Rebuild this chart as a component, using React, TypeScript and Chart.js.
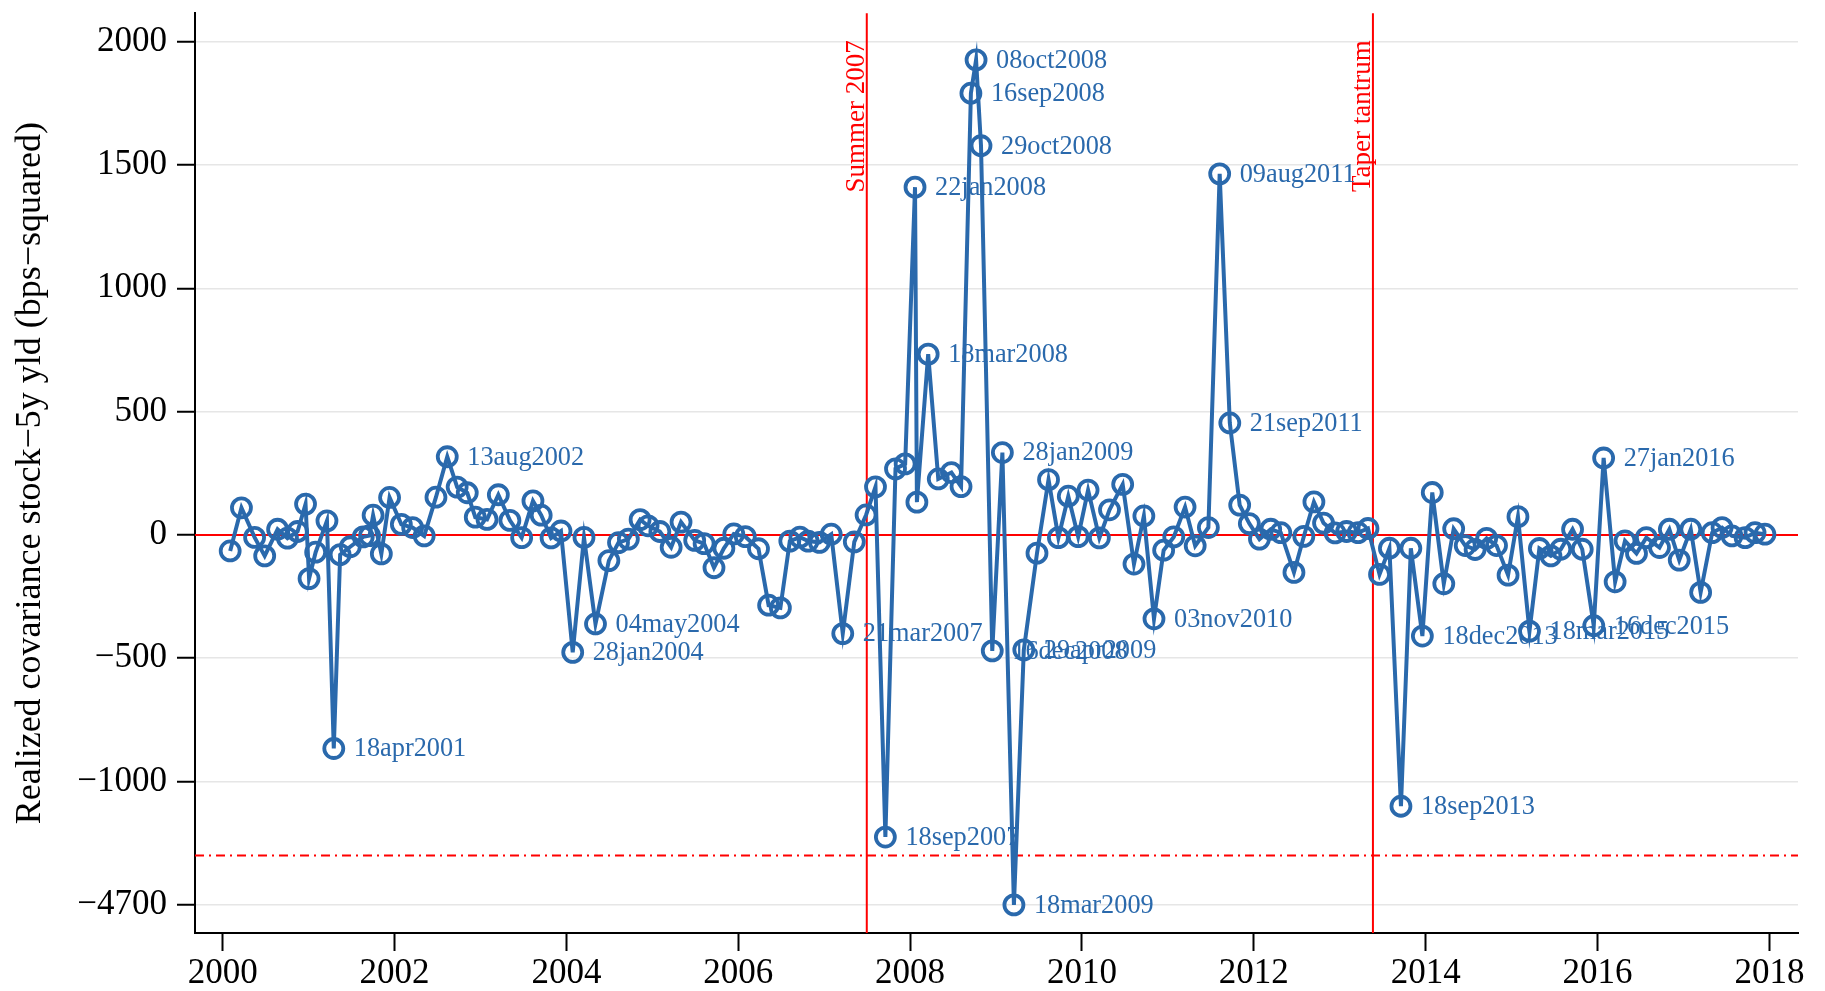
import React, { useEffect, useRef } from 'react';
import { Chart, registerables } from 'chart.js';

Chart.register(...registerables);

// ---------------- data ----------------
const meetingDates: string[] = [
  '02feb2000', '21mar2000', '16may2000', '28jun2000', '22aug2000', '03oct2000', '15nov2000', '19dec2000',
  '03jan2001', '31jan2001', '20mar2001', '18apr2001', '15may2001', '27jun2001', '21aug2001', '17sep2001', '02oct2001', '06nov2001', '11dec2001',
  '30jan2002', '19mar2002', '07may2002', '26jun2002', '13aug2002', '24sep2002', '06nov2002', '10dec2002',
  '29jan2003', '18mar2003', '06may2003', '25jun2003', '12aug2003', '16sep2003', '28oct2003', '09dec2003',
  '28jan2004', '16mar2004', '04may2004', '30jun2004', '10aug2004', '21sep2004', '10nov2004', '14dec2004',
  '02feb2005', '22mar2005', '03may2005', '30jun2005', '09aug2005', '20sep2005', '01nov2005', '13dec2005',
  '31jan2006', '28mar2006', '10may2006', '29jun2006', '08aug2006', '20sep2006', '25oct2006', '12dec2006',
  '31jan2007', '21mar2007', '09may2007', '28jun2007', '07aug2007', '18sep2007', '31oct2007', '11dec2007',
  '22jan2008', '30jan2008', '18mar2008', '30apr2008', '25jun2008', '05aug2008', '16sep2008', '08oct2008', '29oct2008', '16dec2008',
  '28jan2009', '18mar2009', '29apr2009', '24jun2009', '12aug2009', '23sep2009', '04nov2009', '16dec2009',
  '27jan2010', '16mar2010', '28apr2010', '23jun2010', '10aug2010', '21sep2010', '03nov2010', '14dec2010',
  '26jan2011', '15mar2011', '27apr2011', '22jun2011', '09aug2011', '21sep2011', '02nov2011', '13dec2011',
  '25jan2012', '13mar2012', '25apr2012', '20jun2012', '01aug2012', '13sep2012', '24oct2012', '12dec2012',
  '30jan2013', '20mar2013', '01may2013', '19jun2013', '31jul2013', '18sep2013', '30oct2013', '18dec2013',
  '29jan2014', '19mar2014', '30apr2014', '18jun2014', '30jul2014', '17sep2014', '29oct2014', '17dec2014',
  '28jan2015', '18mar2015', '29apr2015', '17jun2015', '29jul2015', '17sep2015', '28oct2015', '16dec2015',
  '27jan2016', '16mar2016', '27apr2016', '15jun2016', '27jul2016', '21sep2016', '02nov2016', '14dec2016',
  '01feb2017', '15mar2017', '03may2017', '14jun2017', '26jul2017', '20sep2017', '01nov2017', '13dec2017',
];

const covariance: number[] = [
  -65, 110, -10, -85, 23, -13, 14, 125,
  -177, -70, 57, -866, -80, -48, -8, -3, 80, -77, 152,
  43, 30, -4, 153, 317, 194, 171, 72,
  63, 163, 59, -11, 138, 80, -12, 16,
  -476, -10, -361, -104, -31, -17, 62, 37,
  14, -50, 52, -22, -35, -133, -54, 4,
  -7, -56, -285, -296, -25, -9, -25, -30,
  3, -400, -28, 81, 195, -1225, 268, 288,
  1410, 133, 733, 227, 253, 196, 1791, 1926, 1578, -470,
  334, -4700, -466, -74, 224, -11, 157, -7,
  182, -12, 102, 205, -118, 77, -340, -62,
  -8, 113, -44, 30, 1464, 454, 121, 46,
  -17, 23, 9, -152, -6, 134, 48, 8,
  14, 9, 26, -160, -54, -1100, -54, -410,
  172, -198, 25, -43, -59, -14, -43, -163,
  74, -390, -55, -85, -58, 23, -58, -368,
  312, -190, -24, -75, -11, -51, 23, -102,
  23, -233, 9, 30, -4, -11, 9, 3,
];

const labeledDates: string[] = [
  '18apr2001', '13aug2002', '28jan2004', '04may2004', '21mar2007', '18sep2007', '22jan2008', '18mar2008',
  '16sep2008', '08oct2008', '29oct2008', '16dec2008', '28jan2009', '18mar2009', '29apr2009', '03nov2010',
  '09aug2011', '21sep2011', '18sep2013', '18dec2013', '18mar2015', '16dec2015', '27jan2016',
];

const yTickValues: number[] = [2000, 1500, 1000, 500, 0, -500, -1000, -4700];
const xTickYears: number[] = [2000, 2002, 2004, 2006, 2008, 2010, 2012, 2014, 2016, 2018];

const eventDates: string[] = ['01jul2007', '22may2013'];
const eventLabels: string[] = ['Summer 2007', 'Taper tantrum'];

const yTitle = 'Realized covariance stock\u22125y yld (bps\u2212squared)';

// axis break: values at or below BREAK_VALUE are drawn at BREAK_POSITION
const BREAK_VALUE = -4700;
const BREAK_POSITION = -1500;
const BREAK_LINE = -1300;

const X_MIN = 1999.678;
const X_MAX = 2018.333;
const Y_MIN = -1614;
const Y_MAX = 2115;

const BLUE = '#2a69ac';
const RED = '#ff0000';
const SERIF = '"Liberation Serif", "Times New Roman", serif';

// ---------------- helpers ----------------
const MONTHS = ['jan', 'feb', 'mar', 'apr', 'may', 'jun', 'jul', 'aug', 'sep', 'oct', 'nov', 'dec'];
function toYear(s: string): number {
  const d = parseInt(s.slice(0, 2), 10);
  const m = MONTHS.indexOf(s.slice(2, 5));
  const y = parseInt(s.slice(5), 10);
  const t = Date.UTC(y, m, d);
  const a = Date.UTC(y, 0, 1);
  const b = Date.UTC(y + 1, 0, 1);
  return y + (t - a) / (b - a);
}
function toAxis(v: number): number {
  return v <= BREAK_VALUE ? BREAK_POSITION + (v - BREAK_VALUE) : v;
}
function fmt(v: number): string {
  return v < 0 ? '\u2212' + String(Math.abs(v)) : String(v);
}

const overlayPlugin = {
  id: 'overlay',
  beforeDatasetsDraw(chart: any) {
    const { ctx, chartArea: a, scales } = chart;
    const x = scales.x;
    const y = scales.y;
    ctx.save();
    ctx.strokeStyle = RED;
    ctx.lineWidth = 2;
    const y0 = y.getPixelForValue(0);
    ctx.beginPath();
    ctx.moveTo(a.left, y0);
    ctx.lineTo(a.right, y0);
    ctx.stroke();
    const yb = y.getPixelForValue(BREAK_LINE);
    ctx.setLineDash([9, 5, 2, 5]);
    ctx.beginPath();
    ctx.moveTo(a.left, yb);
    ctx.lineTo(a.right, yb);
    ctx.stroke();
    ctx.setLineDash([]);
    eventDates.forEach((d, i) => {
      const px = x.getPixelForValue(toYear(d));
      ctx.beginPath();
      ctx.moveTo(px, a.top);
      ctx.lineTo(px, a.bottom);
      ctx.stroke();
      ctx.save();
      ctx.fillStyle = RED;
      ctx.font = `27px ${SERIF}`;
      ctx.translate(px - 3, a.top + 27);
      ctx.rotate(-Math.PI / 2);
      ctx.textAlign = 'right';
      ctx.textBaseline = 'alphabetic';
      ctx.fillText(eventLabels[i], 0, 0);
      ctx.restore();
    });
    ctx.restore();
  },
  afterDatasetsDraw(chart: any) {
    const { ctx } = chart;
    const meta = chart.getDatasetMeta(0);
    ctx.save();
    ctx.fillStyle = BLUE;
    ctx.font = `26.3px ${SERIF}`;
    ctx.textAlign = 'left';
    ctx.textBaseline = 'middle';
    meetingDates.forEach((d, i) => {
      if (labeledDates.indexOf(d) < 0) return;
      const el = meta.data[i];
      ctx.fillText(d, el.x + 20, el.y + 1);
    });
    ctx.restore();
  },
};

export default function App() {
  const ref = useRef<HTMLCanvasElement | null>(null);

  useEffect(() => {
    if (!ref.current) return;
    const points = meetingDates.map((d, i) => ({ x: toYear(d), y: toAxis(covariance[i]) }));
    const chart = new Chart(ref.current, {
      type: 'scatter',
      data: {
        datasets: [
          {
            data: points,
            showLine: true,
            borderColor: BLUE,
            borderWidth: 4,
            pointRadius: 9.5,
            pointHoverRadius: 9.5,
            pointBorderWidth: 3.8,
            pointBorderColor: BLUE,
            pointBackgroundColor: 'rgba(0,0,0,0)',
            tension: 0,
          },
        ],
      },
      options: {
        animation: false,
        responsive: true,
        maintainAspectRatio: false,
        layout: { padding: { top: 10, right: 27, left: 0, bottom: 0 } },
        plugins: { legend: { display: false }, tooltip: { enabled: false } },
        scales: {
          x: {
            type: 'linear',
            min: X_MIN,
            max: X_MAX,
            afterBuildTicks: (s: any) => {
              s.ticks = xTickYears.map((v) => ({ value: v }));
            },
            afterFit: (s: any) => {
              s.height = 58;
              s.paddingLeft = 0;
              s.paddingRight = 0;
            },
            grid: { drawOnChartArea: false, drawTicks: true, tickLength: 18, tickWidth: 2, tickColor: '#000' },
            border: { display: true, color: '#000', width: 2 },
            ticks: {
              font: { family: SERIF, size: 35 },
              color: '#000',
              padding: 2,
              maxRotation: 0,
              autoSkip: false,
              callback: (v: any) => String(v),
            },
          },
          y: {
            type: 'linear',
            min: Y_MIN,
            max: Y_MAX,
            afterBuildTicks: (s: any) => {
              s.ticks = yTickValues.map((v) => ({ value: toAxis(v) }));
            },
            afterFit: (s: any) => {
              s.width = 195;
              s.paddingTop = 0;
              s.paddingBottom = 0;
            },
            grid: { color: '#e6e6e6', lineWidth: 1.5, tickLength: 18, tickWidth: 2, tickColor: '#000' },
            border: { display: true, color: '#000', width: 2 },
            ticks: {
              font: { family: SERIF, size: 35 },
              color: '#000',
              padding: 10,
              autoSkip: false,
              callback: (v: any) => {
                const idx = yTickValues.map(toAxis).indexOf(v);
                return idx >= 0 ? fmt(yTickValues[idx]) : '';
              },
            },
            title: {
              display: true,
              text: yTitle,
              font: { family: SERIF, size: 36 },
              color: '#000',
              padding: { top: 9, bottom: 0 },
            },
          },
        },
      },
      plugins: [overlayPlugin],
    } as any);
    return () => chart.destroy();
  }, []);

  return (
    <div style={{ position: 'fixed', left: 0, top: 0, width: 1825, height: 991, background: '#fff' }}>
      <canvas ref={ref} />
    </div>
  );
}
